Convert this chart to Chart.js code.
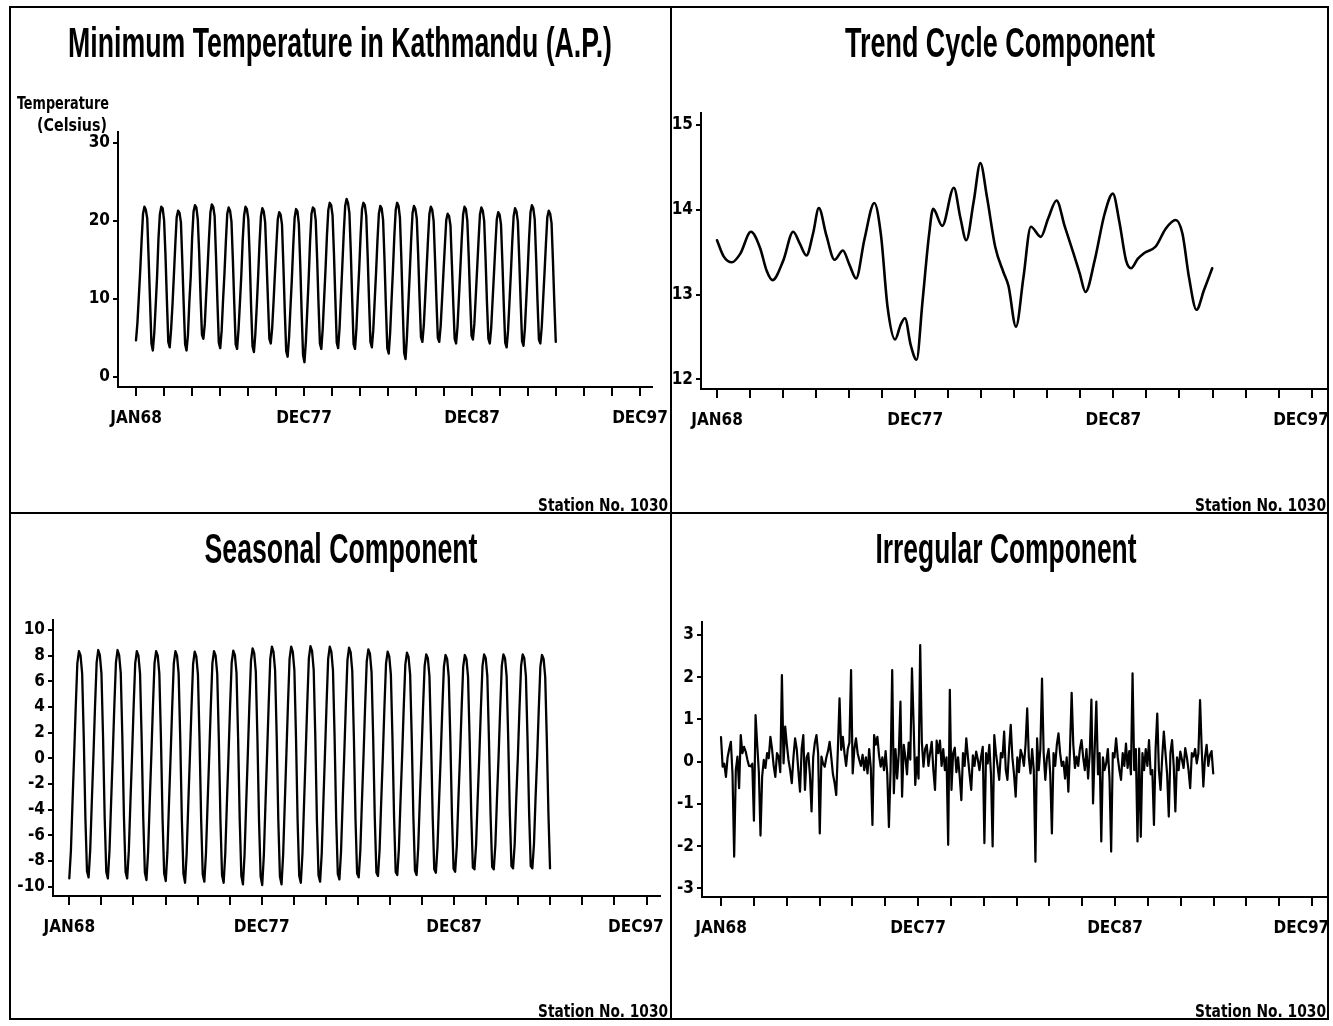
<!DOCTYPE html>
<html>
<head>
<meta charset="utf-8">
<title>Minimum Temperature in Kathmandu (A.P.)</title>
<script src="https://cdn.jsdelivr.net/npm/chart.js@4/dist/chart.umd.min.js"></script>
<style>
  body { margin: 0; background: #fff; }
  #page { position: relative; width: 1333px; height: 1026px; overflow: hidden; background: #fff; }
  canvas { position: absolute; }
  .rule { position: absolute; background: #000; }
</style>
</head>
<body>
<div id="page">
  <canvas id="tempChart"></canvas>
  <canvas id="trendChart"></canvas>
  <canvas id="seasonalChart"></canvas>
  <canvas id="irregularChart"></canvas>
  <!-- panel frame -->
  <div class="rule" style="left:9px;top:6px;width:1320px;height:2px"></div>
  <div class="rule" style="left:9px;top:1018px;width:1320px;height:2px"></div>
  <div class="rule" style="left:9px;top:6px;width:2px;height:1014px"></div>
  <div class="rule" style="left:1327px;top:6px;width:2px;height:1014px"></div>
  <div class="rule" style="left:670px;top:6px;width:2px;height:1014px"></div>
  <div class="rule" style="left:9px;top:512px;width:1320px;height:2px"></div>
</div>
<script>
// monthly series, Jan 1968 .. Dec 1992, one row per year (Jan..Dec)
const firstYear = 1968;

const xTickLabels = ['JAN68', '', '', '', '', '', 'DEC77', '', '', '', '', '', 'DEC87', '', '', '', '', '', 'DEC97'];
const xSpan = 359; // months from JAN68 to DEC97

const tempTicks = [0, 10, 20, 30];
const trendTicks = [12, 13, 14, 15];
const seasonalTicks = [-10, -8, -6, -4, -2, 0, 2, 4, 6, 8, 10];
const irregularTicks = [-3, -2, -1, 0, 1, 2, 3];

// minimum temperature (Celsius)
const minTemp = [
  [4.7, 6.9, 10.2, 13.6, 17.5, 20.9, 21.8, 21.4, 20.3, 15.2, 9.7, 4.3],
  [3.4, 5.6, 9.1, 12.8, 17.7, 20.8, 21.8, 21.6, 20.1, 15.6, 9.9, 4.5],
  [3.8, 6.1, 9.3, 13.1, 17.0, 20.5, 21.3, 21.0, 19.8, 14.7, 9.2, 4.2],
  [3.4, 5.4, 9.6, 12.9, 17.9, 21.2, 22.0, 21.7, 20.2, 15.9, 10.1, 5.4],
  [4.9, 6.8, 10.5, 14.0, 17.8, 21.1, 22.1, 21.8, 20.6, 15.4, 9.6, 4.4],
  [3.7, 5.9, 9.8, 13.2, 17.3, 20.9, 21.7, 21.3, 19.9, 15.0, 9.4, 4.2],
  [3.6, 6.0, 9.4, 13.0, 17.5, 20.7, 21.8, 21.5, 20.2, 15.3, 9.0, 3.9],
  [3.2, 5.5, 9.0, 12.9, 17.2, 20.6, 21.6, 21.2, 19.8, 14.9, 9.8, 4.9],
  [4.3, 6.3, 9.7, 13.4, 16.9, 20.2, 21.1, 20.8, 19.5, 14.2, 8.3, 3.3],
  [2.6, 5.0, 8.8, 12.5, 16.8, 20.4, 21.5, 21.2, 19.6, 14.4, 8.2, 2.8],
  [1.9, 4.6, 8.6, 12.6, 17.4, 20.9, 21.7, 21.5, 20.1, 15.3, 9.4, 4.3],
  [3.6, 6.2, 10.0, 13.8, 18.1, 21.4, 22.3, 22.0, 20.7, 15.8, 10.0, 4.4],
  [3.7, 6.3, 10.4, 14.4, 18.5, 21.9, 22.8, 22.3, 21.0, 16.1, 9.9, 4.2],
  [3.6, 6.2, 10.3, 13.9, 18.2, 21.5, 22.3, 22.0, 20.6, 15.6, 9.7, 4.5],
  [3.8, 6.0, 9.7, 13.4, 17.5, 20.9, 21.9, 21.6, 20.1, 15.1, 9.1, 3.7],
  [3.0, 5.6, 9.7, 13.6, 18.0, 21.4, 22.3, 21.9, 20.4, 15.2, 8.8, 3.1],
  [2.3, 5.2, 9.3, 13.3, 17.6, 21.0, 21.9, 21.5, 20.3, 15.6, 10.0, 5.1],
  [4.5, 6.6, 10.2, 13.9, 17.6, 20.9, 21.8, 21.4, 20.0, 15.1, 9.8, 5.0],
  [4.5, 6.5, 9.9, 13.4, 16.8, 20.1, 20.9, 20.6, 19.4, 14.5, 9.4, 4.9],
  [4.3, 6.4, 10.1, 13.8, 17.6, 20.8, 21.8, 21.5, 20.0, 15.4, 10.0, 5.3],
  [4.8, 6.8, 10.3, 13.9, 17.5, 20.8, 21.7, 21.3, 20.0, 15.1, 9.5, 4.9],
  [4.3, 6.3, 9.8, 13.3, 16.9, 20.2, 21.1, 20.8, 19.5, 14.6, 9.1, 4.4],
  [3.8, 5.9, 9.5, 13.2, 17.3, 20.6, 21.6, 21.2, 19.9, 15.0, 9.5, 4.6],
  [4.0, 6.2, 9.9, 13.6, 17.8, 21.1, 22.0, 21.6, 20.2, 15.3, 9.7, 4.8],
  [4.3, 6.4, 9.9, 13.4, 17.1, 20.5, 21.3, 20.9, 19.7, 14.8, 9.4, 4.5]
];

// trend cycle, read at its turning points (month index from JAN68)
const trendMonth = [0, 4, 9, 14, 20.5, 26, 30, 33.5, 40, 46, 50, 54, 58, 61.5, 66, 71, 76, 80, 84, 89,
  95, 99, 103, 107.5, 111, 113.5, 117, 120.5, 124, 128, 130.5, 136, 143, 147, 150.5, 155, 159, 163, 168, 173,
  176, 180.5, 185, 189.5, 195.5, 200, 205, 210, 215, 219, 222.5, 228, 234, 239, 243, 247, 250, 254, 258, 265,
  271, 277, 281, 285, 289.5, 294, 299];
const trendValue = [13.64, 13.45, 13.38, 13.48, 13.74, 13.55, 13.28, 13.17, 13.40, 13.74, 13.60, 13.46, 13.72, 14.02, 13.70, 13.41, 13.52, 13.35, 13.19, 13.65,
  14.08, 13.70, 12.85, 12.47, 12.65, 12.72, 12.40, 12.23, 12.90, 13.70, 14.01, 13.81, 14.26, 13.90, 13.64, 14.10, 14.55, 14.15, 13.56, 13.26,
  13.10, 12.62, 13.20, 13.80, 13.68, 13.90, 14.11, 13.80, 13.50, 13.25, 13.03, 13.40, 13.95, 14.19, 13.85, 13.40, 13.31, 13.42, 13.49, 13.57,
  13.78, 13.88, 13.72, 13.20, 12.82, 13.05, 13.31];

// seasonal component
const seasonal = [
  [-9.35, -7.20, -3.40, 0.20, 4.00, 7.40, 8.36, 8.00, 6.60, 1.60, -4.60, -8.80],
  [-9.27, -7.15, -3.40, 0.20, 4.05, 7.45, 8.44, 8.05, 6.60, 1.60, -4.60, -8.85],
  [-9.35, -7.20, -3.45, 0.20, 4.05, 7.45, 8.44, 8.05, 6.65, 1.60, -4.65, -8.85],
  [-9.35, -7.25, -3.45, 0.15, 4.00, 7.40, 8.36, 8.00, 6.60, 1.55, -4.70, -8.90],
  [-9.48, -7.30, -3.50, 0.15, 4.00, 7.40, 8.36, 8.00, 6.60, 1.55, -4.70, -8.95],
  [-9.56, -7.35, -3.50, 0.15, 4.00, 7.40, 8.36, 8.00, 6.60, 1.55, -4.75, -9.00],
  [-9.69, -7.40, -3.55, 0.10, 3.95, 7.35, 8.31, 7.95, 6.55, 1.50, -4.75, -9.05],
  [-9.61, -7.40, -3.55, 0.10, 4.00, 7.40, 8.36, 8.00, 6.60, 1.55, -4.80, -9.10],
  [-9.69, -7.45, -3.55, 0.15, 4.05, 7.45, 8.39, 8.05, 6.65, 1.55, -4.80, -9.15],
  [-9.82, -7.50, -3.60, 0.20, 4.15, 7.60, 8.57, 8.20, 6.75, 1.60, -4.85, -9.20],
  [-9.87, -7.55, -3.60, 0.25, 4.20, 7.75, 8.70, 8.30, 6.85, 1.65, -4.85, -9.20],
  [-9.82, -7.50, -3.60, 0.25, 4.20, 7.75, 8.70, 8.30, 6.85, 1.65, -4.85, -9.15],
  [-9.69, -7.45, -3.55, 0.30, 4.25, 7.80, 8.75, 8.35, 6.90, 1.70, -4.80, -9.10],
  [-9.61, -7.40, -3.50, 0.30, 4.20, 7.75, 8.70, 8.30, 6.85, 1.70, -4.75, -9.00],
  [-9.43, -7.30, -3.45, 0.25, 4.15, 7.65, 8.62, 8.25, 6.80, 1.65, -4.70, -8.95],
  [-9.27, -7.20, -3.40, 0.20, 4.10, 7.55, 8.49, 8.15, 6.70, 1.60, -4.65, -8.90],
  [-9.17, -7.10, -3.35, 0.15, 4.00, 7.40, 8.31, 7.95, 6.55, 1.55, -4.60, -8.85],
  [-9.09, -7.05, -3.30, 0.15, 3.95, 7.30, 8.23, 7.90, 6.50, 1.50, -4.55, -8.75],
  [-9.09, -7.00, -3.30, 0.10, 3.90, 7.20, 8.10, 7.80, 6.40, 1.45, -4.50, -8.65],
  [-8.91, -6.90, -3.25, 0.10, 3.85, 7.15, 8.05, 7.75, 6.35, 1.45, -4.45, -8.60],
  [-8.83, -6.85, -3.20, 0.10, 3.85, 7.15, 8.05, 7.75, 6.35, 1.45, -4.40, -8.50],
  [-8.65, -6.75, -3.15, 0.15, 3.90, 7.20, 8.10, 7.80, 6.40, 1.50, -4.35, -8.45],
  [-8.65, -6.75, -3.15, 0.15, 3.90, 7.20, 8.10, 7.80, 6.40, 1.50, -4.35, -8.40],
  [-8.57, -6.70, -3.10, 0.15, 3.90, 7.20, 8.10, 7.80, 6.40, 1.50, -4.30, -8.40],
  [-8.57, -6.70, -3.10, 0.15, 3.85, 7.15, 8.05, 7.75, 6.35, 1.45, -4.30, -8.57]
];

// irregular component
const irregular = [
  [0.58, -0.12, -0.05, -0.36, 0.10, 0.30, 0.47, -0.30, -2.25, -0.20, 0.12, -0.63],
  [0.63, 0.20, 0.35, 0.24, 0.05, -0.10, -0.11, -0.05, -1.40, 1.10, 0.40, -0.25],
  [-1.75, -0.35, 0.04, -0.15, 0.20, 0.08, 0.59, 0.30, -0.10, -0.36, 0.20, 0.12],
  [-0.25, 2.05, -0.04, 0.83, 0.40, 0.04, -0.20, -0.51, 0.10, 0.55, 0.30, -0.22],
  [-0.71, 0.30, 0.63, -0.67, 0.10, 0.20, -0.30, -1.18, 0.10, 0.45, 0.63, 0.20],
  [-1.70, 0.12, -0.05, -0.12, 0.10, 0.25, 0.47, 0.10, -0.30, -0.50, -0.79, 0.30],
  [1.50, 0.28, 0.59, 0.20, -0.10, 0.30, 0.45, 2.17, -0.28, 0.30, 0.55, 0.20],
  [0.04, -0.10, 0.16, -0.20, 0.10, -0.28, 0.30, -0.15, -1.50, 0.63, 0.40, 0.59],
  [0.15, -0.12, 0.10, -0.20, 0.25, -0.30, -1.55, -0.20, 2.17, -0.75, 0.30, -0.40],
  [0.20, 1.42, -0.83, 0.40, 0.10, -0.30, 0.45, 0.05, 2.21, 0.90, -0.55, 0.10],
  [-0.40, 2.76, 0.47, -0.12, 0.30, 0.40, -0.10, 0.20, 0.47, -0.20, -0.67, 0.50],
  [0.20, 0.50, -0.10, 0.30, -0.20, 0.10, -1.97, 1.70, -0.67, 0.20, 0.33, -0.25],
  [0.10, -0.35, -0.91, 0.20, -0.10, 0.55, 0.10, -0.30, -0.67, 0.15, -0.10, 0.24],
  [0.05, -0.20, 0.12, 0.35, -1.93, 0.20, -0.04, 0.40, -0.30, -2.01, 0.63, 0.20],
  [-0.10, -0.43, 0.20, 0.10, 0.71, -0.20, -0.43, 0.30, 0.87, 0.10, -0.30, -0.83],
  [0.10, -0.25, 0.28, 0.15, -0.10, 0.40, 1.26, 0.10, -0.28, 0.30, -0.20, -2.37],
  [0.55, -0.20, 0.30, 1.97, 0.20, -0.43, 0.10, 0.30, -0.30, -1.70, 0.20, -0.10],
  [0.40, 0.67, 0.20, -0.10, 0.00, -0.40, 0.10, -0.71, 0.30, 1.63, 0.40, -0.15],
  [0.12, -0.10, 0.30, 0.51, 0.10, -0.20, 0.30, -0.40, 0.20, 1.47, -0.99, 0.30],
  [1.42, -0.30, 0.20, -1.89, 0.10, -0.20, -0.04, 0.30, -0.40, -2.13, 0.20, 0.10],
  [0.55, 0.10, -0.20, -0.43, 0.20, -0.10, 0.43, -0.15, 0.25, -0.30, 2.09, -0.20],
  [0.30, -1.89, 0.31, -1.78, 0.20, -0.20, 0.30, -0.10, 0.51, -0.30, -0.20, -1.50],
  [0.30, 1.14, -0.20, -0.67, 0.10, 0.71, 0.20, -0.30, -1.30, 0.20, 0.51, -0.10],
  [-1.18, 0.10, -0.20, 0.24, 0.05, -0.15, 0.32, 0.10, -0.20, -0.63, 0.20, 0.12],
  [0.30, -0.04, 0.20, 1.46, 0.30, -0.59, 0.10, 0.40, -0.10, 0.16, 0.25, -0.28]
];

const TICK_FAMILY = '"Liberation Sans Narrow", "DejaVu Sans Condensed", "Liberation Sans", sans-serif';
const TITLE_FONT = 'bold 43px "Liberation Sans Narrow", "Liberation Sans", sans-serif';
const SMALL_FONT = 'bold 17px ' + TICK_FAMILY;
const X_AXIS_H = 50;

function monthly(rows) {
  return rows.flat().map((y, i) => ({ x: i, y }));
}

// text squeezed horizontally to the width it takes in the original print
function drawFitted(ctx, text, x, y, font, width, align) {
  ctx.font = font;
  const s = width / ctx.measureText(text).width;
  ctx.save();
  ctx.translate(x, y);
  ctx.scale(s, 1);
  ctx.textAlign = align;
  ctx.textBaseline = 'alphabetic';
  ctx.fillText(text, 0, 0);
  ctx.restore();
}

const panelText = {
  id: 'panelText',
  afterDraw(chart, args, opts) {
    const ctx = chart.ctx;
    ctx.save();
    ctx.fillStyle = '#000';
    opts.labels.forEach(l => {
      drawFitted(ctx, l.text, l.x - opts.ox, l.y - opts.oy, l.font, l.w, l.align);
    });
    ctx.restore();
  }
};

const panels = [
  {
    id: 'tempChart', ox: 11, oy: 8, w: 659, h: 504,
    area: { l: 118, t: 132, r: 652, b: 387 }, jan68: 136, dec97: 640, lastPad: 0,
    yHi: [30, 142.7], yLo: [0, 377], yTicks: tempTicks,
    series: { data: monthly(minTemp), borderWidth: 2.4 },
    labels: [
      { text: 'Minimum Temperature in Kathmandu (A.P.)', x: 340, y: 57, w: 544, font: TITLE_FONT, align: 'center' },
      { text: 'Temperature', x: 109, y: 109, w: 92, font: SMALL_FONT, align: 'right' },
      { text: '(Celsius)', x: 107, y: 131, w: 70, font: SMALL_FONT, align: 'right' },
      { text: 'Station No. 1030', x: 668, y: 511, w: 130, font: SMALL_FONT, align: 'right' }
    ]
  },
  {
    id: 'trendChart', ox: 672, oy: 8, w: 661, h: 504,
    area: { l: 701, t: 113, r: 1326, b: 389 }, jan68: 717, dec97: 1311.6, lastPad: 2,
    yHi: [15, 125], yLo: [12, 379.3], yTicks: trendTicks,
    series: {
      data: trendMonth.map((m, i) => ({ x: m, y: trendValue[i] })),
      borderWidth: 2.6, cubicInterpolationMode: 'monotone'
    },
    labels: [
      { text: 'Trend Cycle Component', x: 1000, y: 57, w: 310, font: TITLE_FONT, align: 'center' },
      { text: 'Station No. 1030', x: 1326, y: 511, w: 131, font: SMALL_FONT, align: 'right' }
    ]
  },
  {
    id: 'seasonalChart', ox: 11, oy: 514, w: 659, h: 504,
    area: { l: 53, t: 620, r: 660, b: 896 }, jan68: 69.3, dec97: 646.5, lastPad: 2,
    yHi: [10, 630], yLo: [-10, 886.7], yTicks: seasonalTicks,
    series: { data: monthly(seasonal), borderWidth: 2.3 },
    labels: [
      { text: 'Seasonal Component', x: 341, y: 563, w: 273, font: TITLE_FONT, align: 'center' },
      { text: 'Station No. 1030', x: 668, y: 1017, w: 130, font: SMALL_FONT, align: 'right' }
    ]
  },
  {
    id: 'irregularChart', ox: 672, oy: 514, w: 661, h: 504,
    area: { l: 702, t: 622, r: 1327, b: 897 }, jan68: 721, dec97: 1312, lastPad: 2,
    yHi: [3, 635], yLo: [-3, 888.3], yTicks: irregularTicks,
    series: { data: monthly(irregular), borderWidth: 2.2 },
    labels: [
      { text: 'Irregular Component', x: 1006, y: 563, w: 261, font: TITLE_FONT, align: 'center' },
      { text: 'Station No. 1030', x: 1326, y: 1017, w: 131, font: SMALL_FONT, align: 'right' }
    ]
  }
];

function makeChart(p) {
  const canvas = document.getElementById(p.id);
  canvas.width = p.w;
  canvas.height = p.h;
  canvas.style.left = p.ox + 'px';
  canvas.style.top = p.oy + 'px';

  // axis ranges follow from where the ticks sit in the print
  const ppm = (p.dec97 - p.jan68) / xSpan;
  const xMin = -(p.jan68 - p.area.l) / ppm;
  const xMax = xSpan + (p.area.r - p.dec97) / ppm;
  const ppu = (p.yLo[1] - p.yHi[1]) / (p.yHi[0] - p.yLo[0]);
  const yMax = p.yHi[0] + (p.yHi[1] - p.area.t) / ppu;
  const yMin = p.yLo[0] - (p.area.b - p.yLo[1]) / ppu;
  const yAxisW = p.area.l - p.ox;
  const lastTick = xTickLabels.length - 1;

  const tickFont = { family: TICK_FAMILY, size: 17, weight: 'bold' };

  return new Chart(canvas, {
    type: 'line',
    data: {
      datasets: [Object.assign({
        borderColor: '#000',
        pointRadius: 0,
        fill: false,
        tension: 0,
        borderJoinStyle: 'round',
        borderCapStyle: 'round'
      }, p.series)]
    },
    options: {
      responsive: false,
      animation: false,
      events: [],
      layout: {
        autoPadding: false,
        padding: {
          left: 0,
          top: p.area.t - p.oy,
          right: p.ox + p.w - p.area.r,
          bottom: p.oy + p.h - p.area.b - X_AXIS_H
        }
      },
      plugins: {
        legend: { display: false },
        tooltip: { enabled: false },
        panelText: { ox: p.ox, oy: p.oy, labels: p.labels }
      },
      scales: {
        x: {
          type: 'linear',
          min: xMin,
          max: xMax,
          afterBuildTicks: s => {
            s.ticks = xTickLabels.map((_, i) => ({ value: i * xSpan / lastTick }));
          },
          afterFit: s => {
            s.height = X_AXIS_H;
            s.paddingLeft = 0;
            s.paddingRight = 0;
          },
          ticks: {
            autoSkip: false,
            maxRotation: 0,
            color: '#000',
            font: tickFont,
            padding: 12,
            // last label kept inside the panel frame, as in the print
            callback: (v, i) => i === lastTick ? xTickLabels[i] + '\u2007'.repeat(p.lastPad) : xTickLabels[i]
          },
          grid: { drawOnChartArea: false, color: '#000', lineWidth: 2, tickLength: 9 },
          border: { color: '#000', width: 2 }
        },
        y: {
          min: yMin,
          max: yMax,
          afterBuildTicks: s => {
            s.ticks = p.yTicks.map(v => ({ value: v }));
          },
          afterFit: s => {
            s.width = yAxisW;
            s.paddingTop = 0;
            s.paddingBottom = 0;
          },
          ticks: { color: '#000', font: tickFont, padding: 3 },
          grid: { drawOnChartArea: false, color: '#000', lineWidth: 2, tickLength: 5 },
          border: { color: '#000', width: 2 }
        }
      }
    },
    plugins: [panelText]
  });
}

panels.forEach(makeChart);
</script>
</body>
</html>
